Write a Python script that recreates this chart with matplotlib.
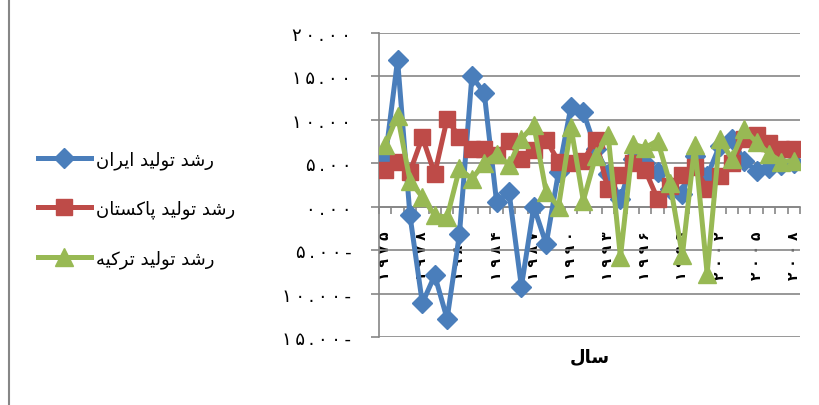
import matplotlib
matplotlib.use("Agg")
import matplotlib.pyplot as plt
from matplotlib.lines import Line2D
from matplotlib.ticker import FixedLocator, FuncFormatter, MultipleLocator

# ---------------- data ----------------
years = list(range(1975, 2009))
iran = [5.5, 16.9, -1.0, -11.1, -7.9, -12.9, -3.1, 15.0, 13.1, 0.5,
        1.7, -9.2, 0.0, -4.3, 4.0, 11.5, 10.9, 6.7, 3.8, 0.9,
        5.5, 5.0, 4.0, 2.0, 1.5, 5.8, 3.5, 7.0, 7.8, 5.3,
        4.1, 4.5, 4.8, 5.0]
pakistan = [4.2, 5.2, 4.0, 8.0, 3.8, 10.1, 8.0, 6.7, 6.7, 5.9,
            7.6, 5.5, 6.5, 7.7, 5.2, 5.0, 5.3, 7.7, 2.0, 3.7,
            5.0, 4.2, 0.9, 2.4, 3.6, 4.6, 2.0, 3.5, 5.0, 7.8,
            8.3, 7.3, 6.7, 6.7]
turkey = [7.1, 10.5, 3.0, 1.1, -1.0, -1.2, 4.4, 3.2, 5.0, 6.1,
          4.8, 7.8, 9.4, 1.7, 0.0, 9.2, 0.7, 5.8, 8.3, -5.8,
          7.2, 6.8, 7.6, 2.7, -5.6, 7.1, -7.7, 7.8, 5.5, 8.9,
          7.4, 6.1, 5.2, 5.3]
series_names = ["رشد تولید ایران", "رشد تولید پاکستان", "رشد تولید ترکیه"]
x_title = "سال"
label_step = 3

# ------------- minimal Persian shaping (matplotlib has no bidi) -------------
FORMS = {
    'ا': ('\uFE8D', '\uFE8E', None, None),
    'ر': ('\uFEAD', '\uFEAE', None, None),
    'د': ('\uFEA9', '\uFEAA', None, None),
    'و': ('\uFEED', '\uFEEE', None, None),
    'ش': ('\uFEB5', '\uFEB6', '\uFEB7', '\uFEB8'),
    'ت': ('\uFE95', '\uFE96', '\uFE97', '\uFE98'),
    'ل': ('\uFEDD', '\uFEDE', '\uFEDF', '\uFEE0'),
    'ی': ('\uFBFC', '\uFBFD', '\uFBFE', '\uFBFF'),
    'ن': ('\uFEE5', '\uFEE6', '\uFEE7', '\uFEE8'),
    'پ': ('\uFB56', '\uFB57', '\uFB58', '\uFB59'),
    'ک': ('\uFB8E', '\uFB8F', '\uFB90', '\uFB91'),
    'س': ('\uFEB1', '\uFEB2', '\uFEB3', '\uFEB4'),
    'ه': ('\uFEE9', '\uFEEA', '\uFEEB', '\uFEEC'),
}


def shape(s):
    out = []
    n = len(s)
    for k, ch in enumerate(s):
        if ch not in FORMS:
            out.append(ch)
            continue
        f = FORMS[ch]
        prev = s[k - 1] if k > 0 else None
        nxt = s[k + 1] if k < n - 1 else None
        jp = prev in FORMS and FORMS[prev][2] is not None
        jn = f[2] is not None and nxt in FORMS
        if jp and jn:
            c = f[3]
        elif jn:
            c = f[2]
        elif jp:
            c = f[1]
        else:
            c = f[0]
        out.append(c)
    return ''.join(reversed(out))


FA_DIGITS = str.maketrans('0123456789', '۰۱۲۳۴۵۶۷۸۹')
THIN = '\u2009'


def fa_num(v, pos=None):
    s = f"{abs(v):.2f}".translate(FA_DIGITS) + ("-" if v < -1e-9 else "")
    return THIN.join(s)


plt.rcParams['font.family'] = ['DejaVu Sans']

fig = plt.figure(figsize=(8.19, 4.06), dpi=100)
ax = fig.add_axes([379 / 819, 1 - 338 / 406, 421 / 819, 304 / 406])

grid_c = '#868686'
colors = ['#4A7EBB', '#BE4B48', '#98B954']
markers = ['D', 's', '^']
msizes = [10, 11.5, 13]
xs = list(range(len(years)))

handles = []
for vals, c, m, ms, name in zip([iran, pakistan, turkey], colors, markers, msizes, series_names):
    h, = ax.plot(xs, vals, color=c, lw=3.6, marker=m, ms=ms, mec=c, mfc=c,
                 label=shape(name), solid_joinstyle='round', zorder=3)
    handles.append(h)

ax.set_xlim(-0.5, len(years) - 0.5)
ax.set_ylim(-15, 20)
ax.yaxis.set_major_locator(MultipleLocator(5))
ax.yaxis.set_major_formatter(FuncFormatter(fa_num))
ax.grid(axis='y', color=grid_c, lw=1.2, zorder=0)
ax.set_axisbelow(True)

for sp in ['top', 'right']:
    ax.spines[sp].set_visible(False)
ax.spines['left'].set_color(grid_c)
ax.spines['left'].set_linewidth(1.2)
ax.spines['bottom'].set_position(('data', 0))
ax.spines['bottom'].set_color(grid_c)
ax.spines['bottom'].set_linewidth(1.2)

ax.tick_params(axis='y', direction='out', length=6, width=1.2, color=grid_c,
               labelsize=13, pad=14)

# category boundary ticks (major), labels on minor ticks every 3 years
ax.xaxis.set_major_locator(FixedLocator([i - 0.5 for i in range(len(years) + 1)]))
ax.xaxis.set_major_formatter(FuncFormatter(lambda v, p: ""))
lab_idx = list(range(0, len(years), label_step))
ax.xaxis.set_minor_locator(FixedLocator(lab_idx))
ax.xaxis.set_minor_formatter(FuncFormatter(
    lambda v, p: " ".join(str(years[int(round(v))]).translate(FA_DIGITS))))
ax.tick_params(axis='x', which='major', direction='out', length=5, width=1.2, color=grid_c)
ax.tick_params(axis='x', which='minor', length=0, pad=17, labelsize=10, labelrotation=90)
for t in ax.xaxis.get_minorticklabels():
    t.set_fontweight('bold')

fig.text(590 / 819, 1 - 357 / 406, shape(x_title), ha='center', va='center',
         fontsize=13, fontweight='bold')

fig.legend(handles=handles, loc='center left', bbox_to_anchor=(22 / 819, 1 - 210 / 406),
           frameon=False, fontsize=13, handlelength=2.9, labelspacing=1.7,
           handletextpad=0.3)

fig.add_artist(Line2D([8.5 / 819, 8.5 / 819], [0, 1], color=grid_c, lw=1.5,
                      transform=fig.transFigure))

fig.savefig('out.png', dpi=100)
